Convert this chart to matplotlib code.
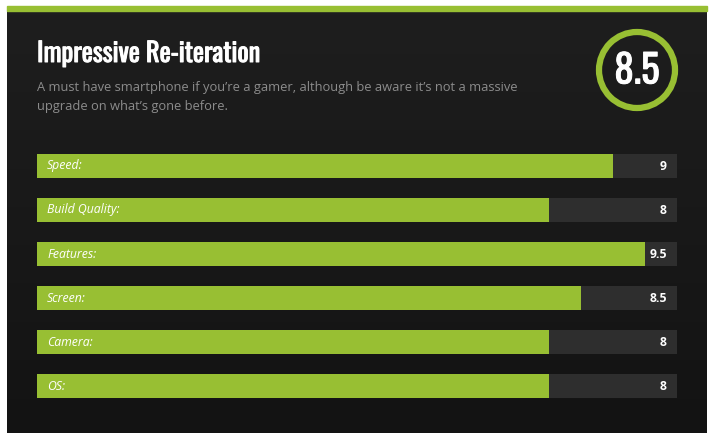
import matplotlib
matplotlib.use("Agg")
import matplotlib.pyplot as plt
import matplotlib.patheffects as pe
from matplotlib import font_manager
from matplotlib.patches import Rectangle, Circle
import numpy as np

# review data
title = "Impressive Re-iteration"
subtitle = ("A must have smartphone if you\u2019re a gamer, although be aware it\u2019s not a massive\n"
            "upgrade on what\u2019s gone before.")
overall_score = 8.5
categories = ["Speed:", "Build Quality:", "Features:", "Screen:", "Camera:", "OS:"]
scores = [9, 8, 9.5, 8.5, 8, 8]
score_labels = ["9", "8", "9.5", "8.5", "8", "8"]
max_score = 10

green = "#98bf33"
track = "#2e2e2e"

# condensed heading font, with fallbacks
names = {f.name for f in font_manager.fontManager.ttflist}
narrow = "DejaVu Sans"
for cand in ["Oswald", "Fjalla One", "PT Sans Narrow", "Roboto Condensed"]:
    if cand in names:
        narrow = cand
        break
body = "Open Sans" if "Open Sans" in names else "DejaVu Sans"

# only one weight of the heading font, so thicken it a bit with a stroke
heavy = [pe.withStroke(linewidth=0.7, foreground="white")]

W, H = 718, 443
fig = plt.figure(figsize=(W / 100, H / 100), dpi=100)
fig.patch.set_facecolor("white")

# backdrop axes in pixel coords
bg = fig.add_axes([0, 0, 1, 1])
bg.set_xlim(0, W)
bg.set_ylim(H, 0)
bg.axis("off")

grad = np.linspace(0.118, 0.075, 256).reshape(-1, 1)
bg.imshow(np.dstack([grad, grad, grad]), extent=[7, 707, 433, 11], aspect="auto", zorder=0)
bg.add_patch(Rectangle((7, 6), 700, 5, color=green, zorder=1))

bg.text(37, 62, title, color="white", fontsize=19, family=narrow,
        va="baseline", ha="left", path_effects=heavy)
bg.text(37, 81, subtitle, color="#8c8c8c", fontsize=9.3, family=body, va="top", ha="left",
        linespacing=1.55)

bg.add_patch(Circle((637, 70), 38, fill=False, edgecolor=green, linewidth=4.5, zorder=2))
bg.text(637, 71, f"{overall_score:g}", color="white", fontsize=28, family=narrow,
        ha="center", va="center", zorder=3, path_effects=heavy)

# score bars
row = 44
bar_h = 24
n = len(categories)
pad = bar_h / 2 / row
ax = fig.add_axes([37 / W, 1 - (154 + (n - 1) * row + bar_h) / H,
                   640 / W, ((n - 1) * row + bar_h) / H])
ax.set_xlim(0, max_score)
ax.set_ylim(n - 1 + pad, -pad)
ax.axis("off")
ax.patch.set_alpha(0)

y = np.arange(n)
ax.barh(y, [max_score] * n, height=bar_h / row, color=track, linewidth=0)
ax.barh(y, scores, height=bar_h / row, color=green, linewidth=0)
for i, (cat, lab) in enumerate(zip(categories, score_labels)):
    ax.text(10 / 64, i, cat, color="white", fontsize=8.8, family=body, style="italic",
            ha="left", va="center")
    ax.text(max_score - 10 / 64, i, lab, color="white", fontsize=8.8, family=body,
            weight="bold", ha="right", va="center")

fig.savefig("out.png", dpi=100, facecolor="white")
